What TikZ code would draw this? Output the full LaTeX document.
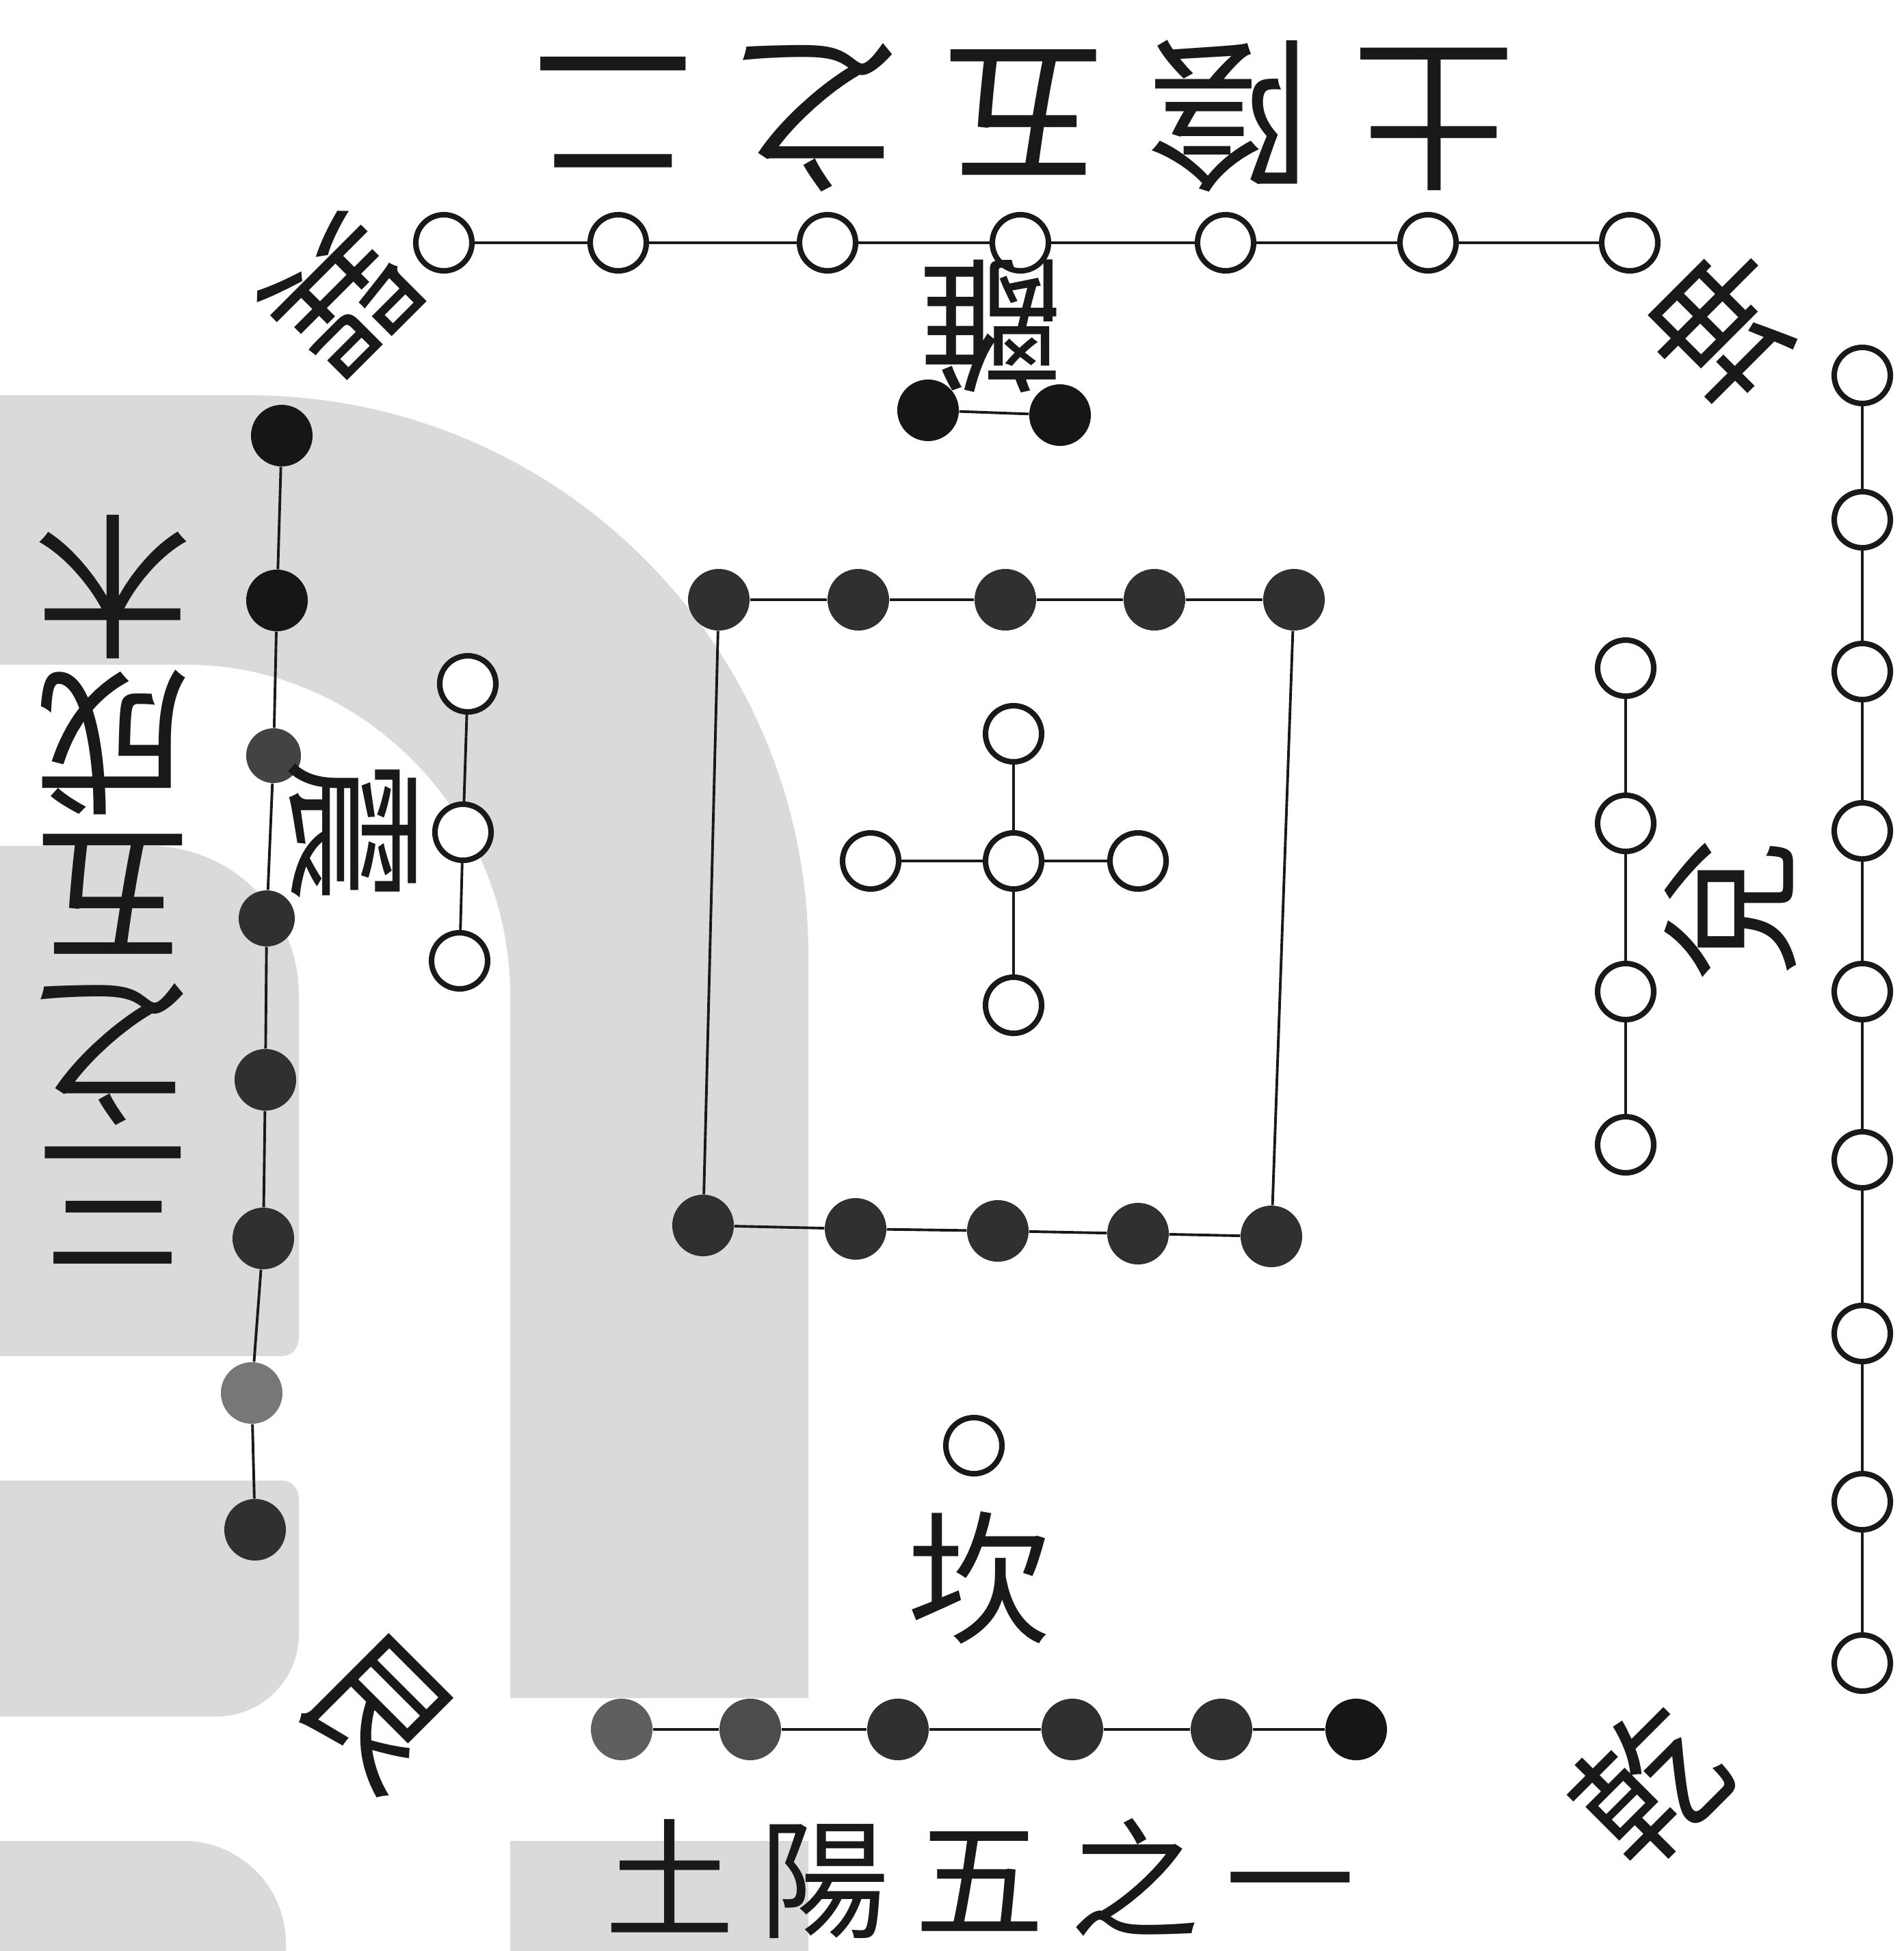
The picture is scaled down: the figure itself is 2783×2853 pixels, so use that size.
\documentclass[tikz,border=0pt]{standalone}
\usepackage{fontspec}
\newfontfamily\cjk{Noto Sans CJK TC}
\definecolor{bgc}{RGB}{218,218,218}
\definecolor{dotc}{RGB}{48,48,48}
\definecolor{dotk}{RGB}{22,22,22}
\definecolor{dotg}{RGB}{95,95,95}
\definecolor{ink}{RGB}{25,25,25}
\begin{document}
\begin{tikzpicture}[x=0.01cm,y=-0.01cm,
 wdot/.style={circle,draw=ink,line width=2.3pt,fill=white,minimum size=0.82cm,inner sep=0pt},
 bdot/.style={circle,draw=none,fill=dotc,minimum size=0.9cm,inner sep=0pt},
 link/.style={draw=ink,line width=1.1pt},
 big/.style={font=\cjk\fontsize{68}{68}\selectfont,text=ink,inner sep=0pt},
 side/.style={font=\cjk\fontsize{65}{65}\selectfont,text=ink,inner sep=0pt},
 small/.style={font=\cjk\fontsize{54}{54}\selectfont,text=ink,inner sep=0pt},
 lab/.style={font=\cjk\fontsize{60}{60}\selectfont,text=ink,inner sep=0pt}]
\useasboundingbox (0,0) rectangle (2783,2853);
\fill[white] (0,0) rectangle (2783,2853);
% background gray shapes
\fill[bgc] (0,578) -- (364,578) .. controls (816,578) and (1182,944) .. (1182,1396) -- (1182,2483) -- (746,2483) -- (746,1455) .. controls (746,1194) and (534,972) .. (273,972) -- (0,972) -- cycle;
\fill[bgc] (0,1237) -- (219,1237) .. controls (339,1237) and (437,1335) .. (437,1455) -- (437,1953) .. controls (437,1970) and (430,1983) .. (410,1983) -- (0,1983) -- cycle;
\fill[bgc] (0,2165) -- (410,2165) .. controls (427,2165) and (437,2175) .. (437,2195) -- (437,2390) .. controls (437,2456) and (383,2510) .. (317,2510) -- (0,2510) -- cycle;
\fill[bgc] (0,2853) -- (0,2692) -- (268,2692) .. controls (351,2692) and (418,2759) .. (418,2842) -- (418,2853) -- cycle;
\fill[bgc] (746,2692) rectangle (1182,2853);

% top row (7 white)
\foreach \i/\x in {1/649,2/904,3/1210,4/1492,5/1792,6/2088,7/2383}
  \node[wdot] (t\i) at (\x,355) {};
\foreach \i [evaluate=\i as \j using int(\i+1)] in {1,...,6} \draw[link] (t\i) -- (t\j);
% right column (9 white)
\foreach \i/\y in {1/549,2/760,3/982,4/1215,5/1450,6/1696,7/1950,8/2196,9/2432}
  \node[wdot] (r\i) at (2723,\y) {};
\foreach \i [evaluate=\i as \j using int(\i+1)] in {1,...,8} \draw[link] (r\i) -- (r\j);
% inner right column (4 white)
\foreach \i/\y in {1/977,2/1204,3/1450,4/1674}
  \node[wdot] (q\i) at (2377,\y) {};
\foreach \i [evaluate=\i as \j using int(\i+1)] in {1,...,3} \draw[link] (q\i) -- (q\j);
% bottom row (6 black)
\node[bdot,fill=dotg] (b1) at (909,2529) {};
\node[bdot,fill=dotg!80!black] (b2) at (1097,2529) {};
\node[bdot] (b3) at (1313,2529) {};
\node[bdot] (b4) at (1568,2529) {};
\node[bdot] (b5) at (1786,2529) {};
\node[bdot,fill=dotk] (b6) at (1983,2529) {};
\foreach \i [evaluate=\i as \j using int(\i+1)] in {1,...,5} \draw[link] (b\i) -- (b\j);
% left column (8 black)
\node[bdot,fill=dotk] (l1) at (412,637) {};
\node[bdot,fill=dotk] (l2) at (405,878) {};
\node[bdot,fill=dotg!70!black,minimum size=0.8cm] (l3) at (400,1105) {};
\node[bdot,minimum size=0.82cm] (l4) at (390,1343) {};
\node[bdot] (l5) at (388,1579) {};
\node[bdot] (l6) at (385,1811) {};
\node[bdot,fill=dotg!85] (l7) at (368,2037) {};
\node[bdot] (l8) at (373,2237) {};
\foreach \i [evaluate=\i as \j using int(\i+1)] in {1,...,7} \draw[link] (l\i) -- (l\j);
% inner left column (3 white)
\node[wdot] (m1) at (684,1000) {};
\node[wdot] (m2) at (677,1217) {};
\node[wdot] (m3) at (672,1405) {};
\draw[link] (m1) -- (m2); \draw[link] (m2) -- (m3);
% top inner pair (2 black)
\node[bdot,fill=dotk] (p1) at (1357,600) {};
\node[bdot,fill=dotk] (p2) at (1550,607) {};
\draw[link] (p1) -- (p2);
% centre cross (5 white)
\node[wdot] (c0) at (1482,1259) {};
\node[wdot] (ct) at (1482,1073) {};
\node[wdot] (cb) at (1482,1470) {};
\node[wdot] (cl) at (1273,1259) {};
\node[wdot] (cr) at (1664,1259) {};
\foreach \n in {ct,cb,cl,cr} \draw[link] (c0) -- (\n);
% square of ten black
\foreach \i/\x in {1/1051,2/1255,3/1470,4/1688,5/1892}
  \node[bdot] (s\i) at (\x,877) {};
\foreach \i/\x/\y in {1/1028/1792,2/1251/1797,3/1459/1800,4/1664/1804,5/1859/1808}
  \node[bdot] (u\i) at (\x,\y) {};
\foreach \i [evaluate=\i as \j using int(\i+1)] in {1,...,4} {\draw[link] (s\i) -- (s\j); \draw[link] (u\i) -- (u\j);}
\draw[link] (s1) -- (u1);
\draw[link] (s5) -- (u5);
% single white above kan
\node[wdot] (k) at (1424,2114) {};

% texts
\node[big,rotate=180] (toptxt) at (1497,170) {土\hspace{0.61cm}陰\hspace{0.61cm}五\hspace{0.61cm}之\hspace{0.61cm}二};
\node[small] (bottxt) at (1433,2747) {土\hspace{0.37cm}陽\hspace{0.37cm}五\hspace{0.37cm}之\hspace{0.37cm}一};
\node[side,rotate=180] (lt1) at (165,858) {木};
\node[side,rotate=180] (lt2) at (165,1085) {成};
\node[side,rotate=180] (lt3) at (165,1308) {五};
\node[side,rotate=180] (lt4) at (165,1542) {之};
\node[side,rotate=180] (lt5) at (165,1763) {三};
\node[lab,rotate=-135] (xun) at (500,433) {巽};
\node[lab,rotate=135] (kun) at (2520,475) {坤};
\node[lab,rotate=180] (li) at (1450,477) {離};
\node[lab,rotate=-90] (zhen) at (515,1215) {震};
\node[lab,rotate=90] (dui) at (2530,1330) {兌};
\node[lab,rotate=45] (qian) at (2410,2611) {乾};
\node[lab,rotate=-45] (gen) at (552,2502) {艮};
\node[lab] (kan) at (1432,2307) {坎};
\end{tikzpicture}
\end{document}
